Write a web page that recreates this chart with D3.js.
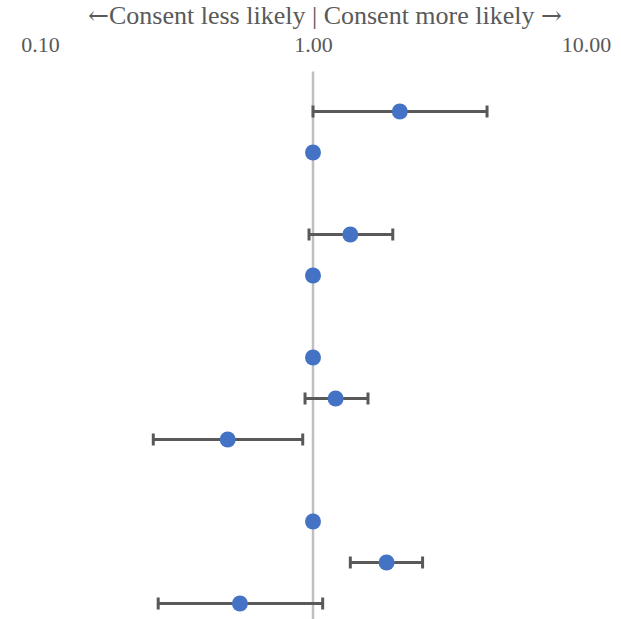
<!DOCTYPE html>
<html>
<head>
<meta charset="utf-8">
<script src="https://cdn.jsdelivr.net/npm/d3@7"></script>
<style>
  html, body { margin: 0; padding: 0; background: #fff; }
  svg { display: block; }
</style>
</head>
<body>
<svg id="chart" width="621" height="619"></svg>
<script>
// Data (odds ratios with 95% CI); blank rows are group separators
const categories = ["r1","r2","gap1","r3","r4","gap2","r5","r6","r7","gap3","r8","r9","r10"];
const estimates = [2.08, 1, null, 1.37, 1, null, 1, 1.21, 0.487, null, 1, 1.86, 0.54];
const lowerCI   = [1.00, null, null, 0.967, null, null, null, 0.935, 0.26, null, null, 1.37, 0.271];
const upperCI   = [4.34, null, null, 1.96, null, null, null, 1.59, 0.917, null, null, 2.52, 1.085];
const tickValues = [0.1, 1, 10];
const titleParts = ["\u2190", "Consent less likely | Consent more likely ", "\u2192"];

const svg = d3.select("#chart");
const font = "Liberation Serif, Times New Roman, serif";
const arrowFont = "DejaVu Serif, serif";

const x = d3.scaleLog().domain([0.1, 10]).range([40, 586]);
const y = d3.scalePoint().domain(categories).range([111.5, 603.5]);

// title
const title = svg.append("text")
  .attr("x", 325).attr("y", 24)
  .attr("text-anchor", "middle")
  .attr("font-family", font).attr("font-size", 26)
  .attr("fill", "#595959");
title.append("tspan").attr("font-family", arrowFont).attr("font-size", 25).text(titleParts[0]);
title.append("tspan").text(titleParts[1]);
title.append("tspan").attr("font-family", arrowFont).attr("font-size", 25).text(titleParts[2]);

// top axis (labels only)
const axis = d3.axisTop(x).tickValues(tickValues).tickFormat(d3.format(".2f")).tickSize(0).tickPadding(0);
const gAxis = svg.append("g").attr("transform", "translate(0,52)").call(axis);
gAxis.select(".domain").remove();
gAxis.attr("font-family", font).attr("font-size", 22);
gAxis.selectAll("text").attr("fill", "#595959");

// reference line at 1
svg.append("line")
  .attr("x1", x(1)).attr("x2", x(1))
  .attr("y1", 71.5).attr("y2", 625)
  .attr("stroke", "#BFBFBF").attr("stroke-width", 2.5);

const rows = categories.map((c, i) => ({c, est: estimates[i], lo: lowerCI[i], hi: upperCI[i]}));
const ci = rows.filter(d => d.lo != null && d.hi != null);

const gErr = svg.append("g").attr("stroke", "#595959").attr("stroke-width", 3);
gErr.selectAll("line.bar").data(ci).join("line").attr("class", "bar")
  .attr("x1", d => x(d.lo)).attr("x2", d => x(d.hi))
  .attr("y1", d => y(d.c)).attr("y2", d => y(d.c));
gErr.selectAll("line.capl").data(ci).join("line").attr("class", "capl")
  .attr("x1", d => x(d.lo)).attr("x2", d => x(d.lo))
  .attr("y1", d => y(d.c) - 6).attr("y2", d => y(d.c) + 6);
gErr.selectAll("line.caph").data(ci).join("line").attr("class", "caph")
  .attr("x1", d => x(d.hi)).attr("x2", d => x(d.hi))
  .attr("y1", d => y(d.c) - 6).attr("y2", d => y(d.c) + 6);

svg.append("g").selectAll("circle")
  .data(rows.filter(d => d.est != null)).join("circle")
  .attr("cx", d => x(d.est)).attr("cy", d => y(d.c))
  .attr("r", 8).attr("fill", "#4472C4");
</script>
</body>
</html>
